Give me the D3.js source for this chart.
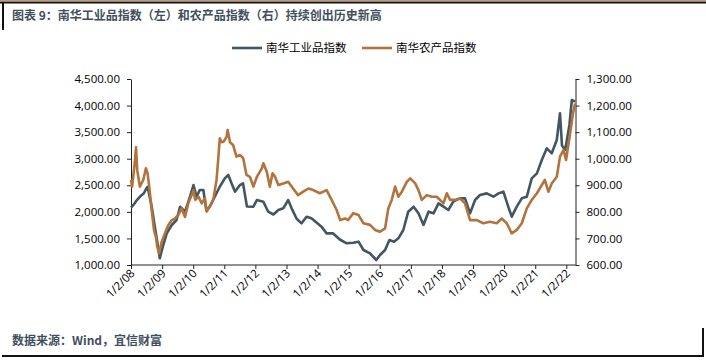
<!DOCTYPE html>
<html><head><meta charset="utf-8">
<script src="https://cdn.jsdelivr.net/npm/d3@7"></script>
<style>body{margin:0;background:#fff}svg{display:block}</style>
</head><body>
<svg id="c" width="706" height="361"></svg>
<script>
const title = "图表 9：南华工业品指数（左）和农产品指数（右）持续创出历史新高";
const source = "数据来源：Wind，宜信财富";
const seriesNames = ["南华工业品指数", "南华农产品指数"];
const leftTicks = [1000,1500,2000,2500,3000,3500,4000,4500];
const rightTicks = [600,700,800,900,1000,1100,1200,1300];
const xTickLabels = ["1/2/08","1/2/09","1/2/10","1/2/11","1/2/12","1/2/13","1/2/14","1/2/15","1/2/16","1/2/17","1/2/18","1/2/19","1/2/20","1/2/21","1/2/22"];

const indDates = ["2008-01-02","2008-02-10","2008-03-01","2008-04-25","2008-06-01","2008-07-01","2008-07-15","2008-09-01","2008-10-08","2008-11-15","2008-12-05","2009-01-15","2009-02-25","2009-04-25","2009-06-20","2009-08-01","2009-09-28","2009-11-25","2010-01-05","2010-02-10","2010-03-20","2010-05-01","2010-06-05","2010-07-15","2010-09-12","2010-11-10","2011-01-08","2011-02-18","2011-03-28","2011-05-08","2011-07-05","2011-08-10","2011-09-25","2011-12-10","2012-01-20","2012-04-05","2012-06-01","2012-08-01","2012-09-28","2012-11-25","2013-01-22","2013-03-03","2013-05-01","2013-06-28","2013-08-25","2013-10-22","2013-12-20","2014-02-17","2014-04-16","2014-07-01","2014-09-20","2014-12-10","2015-02-25","2015-04-28","2015-06-25","2015-09-10","2015-11-22","2016-01-05","2016-03-05","2016-04-25","2016-06-18","2016-08-08","2016-10-05","2016-12-02","2017-02-03","2017-04-01","2017-05-30","2017-07-28","2017-09-25","2017-11-22","2018-01-20","2018-03-18","2018-05-15","2018-08-01","2018-09-30","2018-11-28","2019-01-26","2019-03-25","2019-06-12","2019-08-30","2019-10-28","2019-12-25","2020-02-20","2020-04-01","2020-05-30","2020-07-28","2020-09-25","2020-11-22","2021-01-22","2021-03-20","2021-05-18","2021-07-15","2021-09-12","2021-10-20","2021-11-12","2021-12-20","2022-02-08","2022-03-08","2022-04-15"];
const indValues = [2080,2150,2200,2300,2350,2443,2470,2100,1720,1344,1126,1376,1596,1753,1847,2097,2003,2285,2505,2285,2411,2411,2035,2097,2285,2473,2631,2694,2537,2380,2505,2537,2100,2097,2223,2191,2003,1950,2035,2066,2223,2066,1870,1784,1909,1878,1800,1722,1596,1596,1480,1408,1420,1439,1282,1220,1094,1188,1282,1470,1439,1502,1659,2003,2097,1972,1753,2003,1972,2160,2097,2035,2191,2254,2254,1972,2223,2317,2348,2285,2348,2380,2097,1909,2097,2254,2285,2631,2725,2976,3196,3102,3352,3855,3250,3165,3640,4105,4073];

const agrDates = ["2008-01-02","2008-01-15","2008-01-28","2008-02-18","2008-03-01","2008-03-15","2008-04-15","2008-05-25","2008-06-25","2008-07-15","2008-08-03","2008-09-01","2008-09-28","2008-10-20","2008-11-05","2008-11-28","2008-12-28","2009-02-03","2009-03-15","2009-04-25","2009-06-02","2009-07-10","2009-08-18","2009-09-28","2009-11-05","2009-12-15","2010-01-05","2010-01-25","2010-03-05","2010-04-12","2010-05-20","2010-06-08","2010-07-15","2010-08-25","2010-10-03","2010-10-22","2010-11-10","2010-12-01","2010-12-28","2011-01-30","2011-02-10","2011-03-10","2011-04-15","2011-05-25","2011-07-05","2011-08-12","2011-09-20","2011-10-30","2011-12-10","2012-01-20","2012-03-18","2012-04-05","2012-05-15","2012-06-20","2012-07-22","2012-08-20","2012-09-28","2012-11-25","2013-01-22","2013-03-20","2013-05-18","2013-07-18","2013-09-15","2013-11-12","2014-01-28","2014-04-18","2014-06-16","2014-08-14","2014-09-24","2014-11-22","2014-12-28","2015-02-25","2015-04-28","2015-06-25","2015-09-10","2015-11-08","2016-01-05","2016-03-05","2016-04-12","2016-05-22","2016-07-01","2016-08-08","2016-09-18","2016-11-15","2016-12-25","2017-02-22","2017-04-01","2017-05-10","2017-07-08","2017-09-05","2017-11-02","2018-01-20","2018-02-28","2018-04-08","2018-06-05","2018-08-01","2018-09-30","2018-11-28","2019-02-15","2019-05-03","2019-07-20","2019-10-08","2019-12-05","2020-02-02","2020-04-01","2020-05-30","2020-07-28","2020-09-25","2020-11-22","2021-01-22","2021-03-20","2021-04-25","2021-06-05","2021-07-15","2021-09-12","2021-10-20","2021-12-01","2021-12-30","2022-02-10","2022-03-22","2022-04-15"];
const agrValues = [920,895,932,995,1043,957,895,920,964,945,895,807,732,706,669,644,688,719,750,769,775,788,813,781,832,863,882,845,857,832,851,801,820,845,920,995,1077,1062,1065,1083,1108,1062,1052,1008,1014,1002,939,932,895,932,964,983,951,895,945,932,901,907,913,888,863,876,888,882,870,882,845,807,769,775,769,795,788,757,751,732,725,738,813,845,895,857,876,913,926,907,882,845,863,857,857,832,870,845,845,851,832,769,769,757,763,757,775,757,719,732,757,813,845,870,901,920,876,907,932,1008,1033,995,1083,1171,1208];

const svg = d3.select("#c");
const parse = d3.timeParse("%Y-%m-%d");
const cnFont = "'Noto Sans CJK SC','Noto Sans',sans-serif";
const numFont = "'Open Sans','Noto Sans',sans-serif";
const cInd = "#435663", cAgr = "#B2733D", titleColor = "#3F4F5E";

// frame
svg.append("line").attr("x1",0).attr("x2",706).attr("y1",0.5).attr("y2",0.5).attr("stroke","#C4986A").attr("stroke-width",1);
svg.append("line").attr("x1",0).attr("x2",706).attr("y1",2.5).attr("y2",2.5).attr("stroke","#111").attr("stroke-width",2);
svg.append("line").attr("x1",3).attr("x2",3).attr("y1",2).attr("y2",30).attr("stroke","#111").attr("stroke-width",2);
svg.append("line").attr("x1",2).attr("x2",704).attr("y1",356).attr("y2",356).attr("stroke","#111").attr("stroke-width",2);
svg.append("line").attr("x1",703).attr("x2",703).attr("y1",328).attr("y2",357).attr("stroke","#111").attr("stroke-width",2);

svg.append("text").attr("x",12).attr("y",20).text(title)
  .attr("font-family",cnFont).attr("font-weight","bold").attr("font-size",12).attr("fill",titleColor);
svg.append("text").attr("x",12).attr("y",345).text(source)
  .attr("font-family",cnFont).attr("font-weight","bold").attr("font-size",12).attr("fill",titleColor);

const x = d3.scaleTime().domain([parse("2008-01-02"), parse("2022-04-20")]).range([131, 575.5]);
const yL = d3.scaleLinear().domain([1000,4500]).range([265,79]);
const yR = d3.scaleLinear().domain([600,1300]).range([265,79]);
const fmt = d3.format(",.2f");

const gL = svg.append("g").attr("transform","translate(131,0)")
  .call(d3.axisLeft(yL).tickValues(leftTicks).tickFormat(fmt).tickSize(4).tickSizeOuter(0));
const gR = svg.append("g").attr("transform","translate(575.5,0)")
  .call(d3.axisRight(yR).tickValues(rightTicks).tickFormat(fmt).tickSize(4).tickSizeOuter(0));
const xTickDates = xTickLabels.map(s => { const p = s.split("/"); return new Date(2000 + +p[2], +p[0]-1, +p[1]); });
const gX = svg.append("g").attr("transform","translate(0,265)")
  .call(d3.axisBottom(x).tickValues(xTickDates).tickFormat((d,i)=>xTickLabels[i]).tickSize(4).tickSizeOuter(0));
gX.select(".domain").attr("d","M131,0H575.5");
[gL,gR,gX].forEach(g=>{
  g.selectAll("path,line").attr("stroke","#222");
  g.selectAll("text").attr("font-family",numFont).attr("font-size",11.5).attr("fill","#000");
});
gL.selectAll("text").attr("x",-11);
gR.selectAll("text").attr("x",11);
gX.selectAll("text").attr("text-anchor","end").attr("dy",0)
  .attr("transform","translate(4,9) rotate(-45)").attr("y",0).attr("x",0);

const indData = indDates.map((d,i)=>({d:parse(d), v:indValues[i]}));
const agrData = agrDates.map((d,i)=>({d:parse(d), v:agrValues[i]}));
svg.append("path").datum(indData).attr("fill","none").attr("stroke",cInd).attr("stroke-width",2.6)
  .attr("stroke-linejoin","round").attr("d", d3.line().x(p=>x(p.d)).y(p=>yL(p.v)));
svg.append("path").datum(agrData).attr("fill","none").attr("stroke",cAgr).attr("stroke-width",2.6)
  .attr("stroke-linejoin","round").attr("d", d3.line().x(p=>x(p.d)).y(p=>yR(p.v)));

// legend
const leg = [{n:seriesNames[0],c:cInd,x:232},{n:seriesNames[1],c:cAgr,x:362}];
leg.forEach(l=>{
  svg.append("line").attr("x1",l.x).attr("x2",l.x+30).attr("y1",48).attr("y2",48).attr("stroke",l.c).attr("stroke-width",2.6);
  svg.append("text").attr("x",l.x+34).attr("y",52).text(l.n).attr("font-family",cnFont).attr("font-size",11.5).attr("fill","#000");
});
</script>
</body></html>
